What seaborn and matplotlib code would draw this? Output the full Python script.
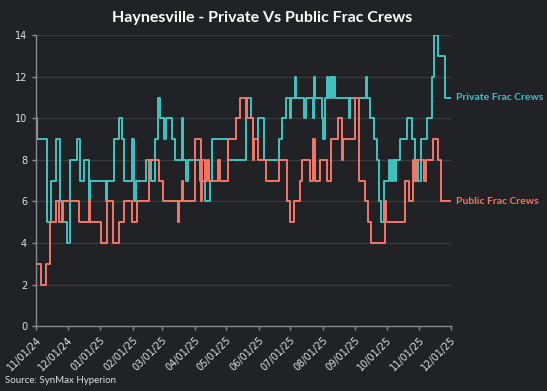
import pandas as pd
import seaborn as sns
import matplotlib.pyplot as plt
import matplotlib.dates as mdates

# change points (date the count moved to, new count)
private_dates = ['2024-11-01', '2024-11-02', '2024-11-11', '2024-11-15', '2024-11-20', '2024-11-24',
	'2024-11-26', '2024-11-30', '2024-12-03', '2024-12-10', '2024-12-13', '2024-12-17', '2024-12-21',
	'2024-12-22', '2025-01-07', '2025-01-08', '2025-01-14', '2025-01-19', '2025-01-22', '2025-01-24',
	'2025-01-31', '2025-02-02', '2025-02-04', '2025-02-14', '2025-02-18', '2025-02-22', '2025-02-25',
	'2025-02-27', '2025-03-03', '2025-03-05', '2025-03-10', '2025-03-13', '2025-03-20', '2025-03-21',
	'2025-03-24', '2025-03-26', '2025-04-06', '2025-04-11', '2025-04-16', '2025-04-18', '2025-05-03',
	'2025-05-20', '2025-05-25', '2025-05-27', '2025-05-31', '2025-06-06', '2025-06-20', '2025-06-23',
	'2025-06-27', '2025-07-01', '2025-07-02', '2025-07-06', '2025-07-07', '2025-07-14', '2025-07-16',
	'2025-07-23', '2025-07-24', '2025-07-25', '2025-07-31', '2025-08-01', '2025-08-03', '2025-08-05',
	'2025-08-06', '2025-08-08', '2025-08-10', '2025-08-11', '2025-08-13', '2025-08-26', '2025-08-27',
	'2025-09-11', '2025-09-12', '2025-09-15', '2025-09-19', '2025-09-22', '2025-09-24', '2025-09-26',
	'2025-09-28', '2025-10-03', '2025-10-05', '2025-10-07', '2025-10-09', '2025-10-10', '2025-10-14',
	'2025-10-20', '2025-10-25', '2025-10-28', '2025-10-30', '2025-10-31', '2025-11-03', '2025-11-08',
	'2025-11-13', '2025-11-15', '2025-11-19', '2025-11-26', '2025-12-01']
private_crews = [10, 9, 5, 7, 9, 6,
	5, 4, 8, 9, 7, 8, 6,
	7, 6, 7, 9, 10, 9, 7,
	9, 6, 7, 8, 7, 9, 11,
	10, 9, 10, 9, 8, 10, 8,
	7, 8, 7, 6, 7, 9, 8,
	11, 10, 9, 10, 8, 9, 10,
	11, 10, 11, 12, 11, 10, 11,
	10, 12, 11, 10, 9, 11, 12,
	11, 12, 11, 12, 11, 10, 11,
	12, 11, 10, 9, 8, 6, 5,
	7, 8, 7, 8, 7, 8, 9,
	10, 9, 7, 8, 7, 9, 10,
	12, 14, 13, 11, 11]

public_dates = ['2024-11-01', '2024-11-06', '2024-11-10', '2024-11-14', '2024-11-20', '2024-11-23',
	'2024-11-27', '2024-12-12', '2024-12-21', '2024-12-22', '2025-01-02', '2025-01-08', '2025-01-13',
	'2025-01-19', '2025-01-24', '2025-01-31', '2025-02-05', '2025-02-17', '2025-02-26', '2025-03-02',
	'2025-03-16', '2025-03-17', '2025-03-20', '2025-03-21', '2025-04-01', '2025-04-07', '2025-04-08',
	'2025-04-11', '2025-04-13', '2025-04-15', '2025-04-23', '2025-04-25', '2025-05-03', '2025-05-10',
	'2025-05-14', '2025-05-21', '2025-05-27', '2025-05-28', '2025-05-31', '2025-06-08', '2025-06-20',
	'2025-06-28', '2025-07-01', '2025-07-05', '2025-07-10', '2025-07-12', '2025-07-20', '2025-07-23',
	'2025-07-25', '2025-07-29', '2025-08-05', '2025-08-09', '2025-08-16', '2025-08-19', '2025-08-20',
	'2025-09-01', '2025-09-05', '2025-09-10', '2025-09-13', '2025-09-16', '2025-09-29', '2025-09-30',
	'2025-10-18', '2025-10-22', '2025-10-26', '2025-10-27', '2025-10-29', '2025-11-06', '2025-11-07',
	'2025-11-14', '2025-11-19', '2025-11-22', '2025-12-01']
public_crews = [3, 2, 3, 5, 6, 5,
	6, 5, 6, 5, 4, 6, 4,
	5, 6, 5, 6, 8, 7, 6,
	5, 6, 7, 6, 9, 6, 8,
	7, 8, 7, 8, 7, 9, 10,
	11, 10, 8, 9, 8, 7, 8,
	6, 5, 6, 7, 8, 7, 9,
	7, 8, 7, 9, 10, 8, 9,
	11, 7, 6, 5, 4, 6, 5,
	7, 6, 8, 7, 8, 7, 8,
	9, 8, 6, 6]

bg = '#212226'
teal = '#3fc4c0'
salmon = '#f4776a'

private = pd.DataFrame({'Date': pd.to_datetime(private_dates), 'Crews': private_crews})
public = pd.DataFrame({'Date': pd.to_datetime(public_dates), 'Crews': public_crews})

sns.set_style('dark')
plt.rcParams['font.family'] = ['Lato', 'DejaVu Sans']

fig, ax = plt.subplots(figsize = (5.47, 3.91), dpi = 100)
fig.patch.set_facecolor(bg)
ax.set_facecolor(bg)
fig.subplots_adjust(left = 0.066, right = 0.824, top = 0.91, bottom = 0.166)

sns.lineplot(data = private, x = 'Date', y = 'Crews', ax = ax, color = teal, lw = 1.4, drawstyle = 'steps-post')
sns.lineplot(data = public, x = 'Date', y = 'Crews', ax = ax, color = salmon, lw = 1.4, drawstyle = 'steps-post')

ax.set_xlim(pd.Timestamp('2024-11-01'), pd.Timestamp('2025-12-01'))
ax.set_ylim(0, 14)
ax.set_yticks(range(0, 15, 2))
ax.xaxis.set_major_locator(mdates.MonthLocator())
ax.xaxis.set_major_formatter(mdates.DateFormatter('%m/%d/%y'))
ax.grid(axis = 'y', color = '#3a3b3f', lw = 0.9)
ax.grid(axis = 'x', visible = False)
ax.set_xlabel('')
ax.set_ylabel('')
for s in ['top', 'right']:
	ax.spines[s].set_visible(False)
for s in ['left', 'bottom']:
	ax.spines[s].set_visible(True)
	ax.spines[s].set_color('#8a8b8e')
	ax.spines[s].set_linewidth(1)
ax.tick_params(axis = 'both', colors = '#8a8b8e', labelcolor = '#e0e0e0', labelsize = 7, length = 3, width = 1,
	bottom = True, left = True)
ax.tick_params(axis = 'x', labelrotation = 45)
for lab in ax.get_xticklabels():
	lab.set_ha('right')
	lab.set_rotation_mode('anchor')
	lab.set_fontfamily('DejaVu Sans')
for lab in ax.get_yticklabels():
	lab.set_fontfamily('DejaVu Sans')

ax.annotate('Private Frac Crews', xy = (private.Date.iloc[-1], private.Crews.iloc[-1]), xytext = (4, 0),
	textcoords = 'offset points', va = 'center', ha = 'left', color = teal, fontsize = 7.5,
	fontweight = 'bold', annotation_clip = False)
ax.annotate('Public Frac Crews', xy = (public.Date.iloc[-1], public.Crews.iloc[-1]), xytext = (4, 0),
	textcoords = 'offset points', va = 'center', ha = 'left', color = salmon, fontsize = 7.5,
	fontweight = 'bold', annotation_clip = False)

fig.text(0.48, 0.955, 'Haynesville - Private Vs Public Frac Crews', ha = 'center', va = 'center',
	color = 'white', fontsize = 11.5, fontweight = 'bold')
fig.text(0.01, 0.028, 'Source: SynMax Hyperion', ha = 'left', va = 'center', color = '#e0e0e0', fontsize = 7)

plt.savefig('out.png', dpi = 100, facecolor = bg)
